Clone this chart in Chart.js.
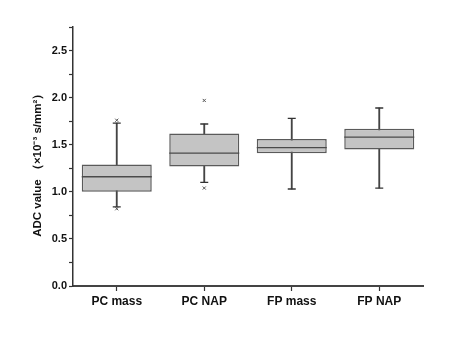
<!DOCTYPE html>
<html>
<head>
<meta charset="utf-8">
<script src="https://cdn.jsdelivr.net/npm/chart.js@4/dist/chart.umd.min.js"></script>
<style>
html,body{margin:0;padding:0;background:#fff;}
#wrap{width:450px;height:337px;position:relative;}
</style>
</head>
<body>
<div id="wrap"><canvas id="c" width="450" height="337"></canvas></div>
<script>
const categories = ['PC mass', 'PC NAP', 'FP mass', 'FP NAP'];
const q1Values = [1.00, 1.27, 1.41, 1.45];
const q3Values = [1.29, 1.62, 1.56, 1.67];
const medianValues = [1.16, 1.41, 1.47, 1.58];
const whiskerLow = [0.84, 1.10, 1.03, 1.04];
const whiskerHigh = [1.73, 1.72, 1.78, 1.89];
const outlierCategories = ['PC mass', 'PC mass', 'PC NAP', 'PC NAP'];
const outlierValues = [1.76, 0.82, 1.97, 1.04];
const yTicks = [0.0, 0.5, 1.0, 1.5, 2.0, 2.5];

const boxData = categories.map((c, i) => [q1Values[i], q3Values[i]]);
const whiskerData = categories.map((c, i) => [whiskerLow[i], whiskerHigh[i]]);
const outlierData = outlierCategories.map((c, i) => ({x: c, y: outlierValues[i]}));

const fontFam = '"Liberation Sans", Arial, sans-serif';

new Chart(document.getElementById('c'), {
  type: 'bar',
  data: {
    labels: categories,
    datasets: [
      {
        type: 'bar', label: 'whisker', data: whiskerData, grouped: false,
        barThickness: 1.2, backgroundColor: '#444', borderWidth: 0, order: 3
      },
      {
        type: 'bar', label: 'box', data: boxData, grouped: false,
        categoryPercentage: 0.8, barPercentage: 1.0,
        backgroundColor: '#c4c4c4', borderColor: '#5a5a5a', borderWidth: 1.5,
        borderSkipped: false, order: 2
      },
      {
        type: 'line', label: 'median', data: medianValues, showLine: false,
        pointStyle: 'line', pointRadius: 35, pointHoverRadius: 35,
        borderColor: '#4a4a4a', pointBorderWidth: 1.3, order: 1
      },
      {
        type: 'line', label: 'capLow', data: whiskerLow, showLine: false,
        pointStyle: 'line', pointRadius: 4, pointHoverRadius: 4,
        borderColor: '#333', pointBorderWidth: 1.3, order: 1
      },
      {
        type: 'line', label: 'capHigh', data: whiskerHigh, showLine: false,
        pointStyle: 'line', pointRadius: 4, pointHoverRadius: 4,
        borderColor: '#333', pointBorderWidth: 1.3, order: 1
      },
      {
        type: 'line', label: 'outliers', data: outlierData, showLine: false,
        pointStyle: 'crossRot', pointRadius: 2.2, pointHoverRadius: 2.2,
        borderColor: '#555', pointBorderWidth: 1, order: 0
      }
    ]
  },
  options: {
    responsive: false,
    animation: false,
    events: [],
    layout: { autoPadding: false, padding: { top: 27, right: 27, left: 0, bottom: 0 } },
    plugins: { legend: { display: false }, tooltip: { enabled: false } },
    scales: {
      x: {
        type: 'category',
        offset: true,
        afterFit: (s) => { s.height = 51; },
        grid: { display: true, drawOnChartArea: false, offset: false, tickLength: 5, color: '#333', tickWidth: 1.2 },
        border: { display: true, color: '#444', width: 2 },
        ticks: { color: '#111', padding: 3, font: { family: fontFam, size: 12, weight: 'bold' } }
      },
      y: {
        min: 0, max: 2.75,
        afterFit: (s) => { s.width = 73; },
        afterBuildTicks: (s) => {
          const t = [];
          for (let i = 0; i <= 11; i++) t.push({ value: i * 0.25 });
          s.ticks = t;
        },
        grid: { display: true, drawOnChartArea: false, tickLength: 4, color: '#333', tickWidth: 1.2 },
        border: { display: true, color: '#333', width: 1.5 },
        ticks: {
          color: '#111', padding: 2,
          font: { family: fontFam, size: 11, weight: 'bold' },
          callback: (v) => {
            const m = yTicks.find(t => Math.abs(t - v) < 1e-6);
            return m === undefined ? '' : m.toFixed(1);
          }
        },
        title: {
          display: true,
          text: 'ADC value （×10⁻³ s/mm²）\u2002\u2002',
          color: '#111',
          padding: { top: 31, bottom: 0 },
          font: { family: fontFam, size: 11.5, weight: 'bold' }
        }
      }
    }
  }
});
</script>
</body>
</html>
